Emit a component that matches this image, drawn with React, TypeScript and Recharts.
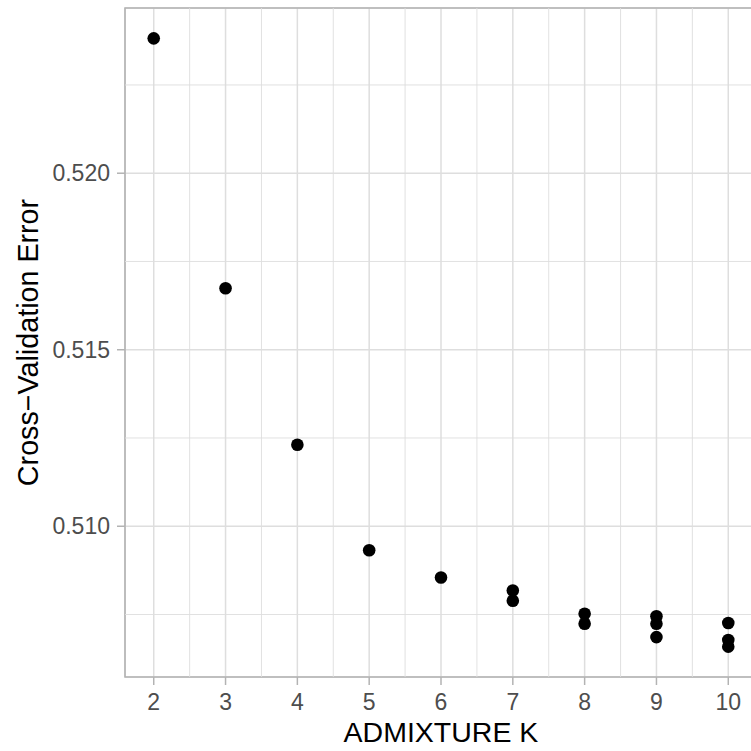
import React from 'react';
import {
  ScatterChart,
  Scatter,
  XAxis,
  YAxis,
  CartesianGrid,
  ReferenceLine,
  ReferenceArea,
} from 'recharts';

// cross-validation error per ADMIXTURE run
const kValues = [2, 3, 4, 5, 6, 7, 7, 8, 8, 9, 9, 9, 10, 10, 10];
const cvErrors = [
  0.52382, 0.51674, 0.51231, 0.50932, 0.50855, 0.50818, 0.50789, 0.50752,
  0.50724, 0.50745, 0.50724, 0.50686, 0.50726, 0.50678, 0.50659,
];

const xTicks = [2, 3, 4, 5, 6, 7, 8, 9, 10];
const xMinor = [2.5, 3.5, 4.5, 5.5, 6.5, 7.5, 8.5, 9.5];
const yTicks = [0.51, 0.515, 0.52];
const yMinor = [0.5075, 0.5125, 0.5175, 0.5225];

const xDomain: [number, number] = [1.6, 10.4];
const yDomain: [number, number] = [0.50573, 0.52468];

const data = kValues.map((k, i) => ({ k, cv: cvErrors[i] }));

const FONT = '"Liberation Sans", Arial, Helvetica, sans-serif';
const GRID = '#DEDEDE';
const BORDER = '#B3B3B3';

const YTitle = (props: any) => {
  const vb = props.viewBox || { x: 0, y: 8, width: 125, height: 669 };
  const x = vb.x + 28;
  const y = vb.y + vb.height / 2;
  return (
    <text
      x={x}
      y={y}
      dy="0.35em"
      textAnchor="middle"
      fontSize={28.7}
      fontFamily={FONT}
      fill="#000"
      transform={`rotate(-90, ${x}, ${y})`}
    >
      Cross−Validation Error
    </text>
  );
};

const Dot = (props: any) => <circle cx={props.cx} cy={props.cy} r={6.3} fill="#000" />;

export default function App() {
  return (
    <div
      style={{
        position: 'fixed',
        left: 0,
        top: 0,
        width: 751,
        height: 751,
        overflow: 'hidden',
        background: '#fff',
      }}
    >
      <ScatterChart width={780} height={751} margin={{ top: 8, right: 23, left: 0, bottom: 0 }}>
        <CartesianGrid stroke={GRID} strokeWidth={1.5} />
        {xMinor.map((v) => (
          <ReferenceLine key={'xm' + v} x={v} stroke={GRID} strokeWidth={0.9} />
        ))}
        {yMinor.map((v) => (
          <ReferenceLine key={'ym' + v} y={v} stroke={GRID} strokeWidth={0.9} />
        ))}
        <XAxis
          type="number"
          dataKey="k"
          domain={xDomain}
          ticks={xTicks}
          allowDataOverflow
          height={74}
          axisLine={false}
          tickSize={8}
          tickMargin={9}
          tickLine={{ stroke: BORDER, strokeWidth: 1.5 }}
          tick={{ fill: '#4D4D4D', fontSize: 23, fontFamily: FONT }}
          label={{
            value: 'ADMIXTURE K',
            position: 'insideBottom',
            offset: 9,
            fill: '#000',
            fontSize: 28.5,
            fontFamily: FONT,
          }}
        />
        <YAxis
          type="number"
          dataKey="cv"
          domain={yDomain}
          ticks={yTicks}
          allowDataOverflow
          width={125}
          axisLine={false}
          tickSize={8}
          tickMargin={7}
          tickLine={{ stroke: BORDER, strokeWidth: 1.5 }}
          tick={{ fill: '#4D4D4D', fontSize: 23, fontFamily: FONT }}
          tickFormatter={(v: number) => v.toFixed(3)}
          label={{ content: YTitle }}
        />
        <ReferenceArea
          x1={xDomain[0]}
          x2={xDomain[1]}
          y1={yDomain[0]}
          y2={yDomain[1]}
          fill="none"
          fillOpacity={0}
          stroke={BORDER}
          strokeWidth={1.6}
          ifOverflow="visible"
        />
        <Scatter data={data} shape={Dot} isAnimationActive={false} />
      </ScatterChart>
    </div>
  );
}
